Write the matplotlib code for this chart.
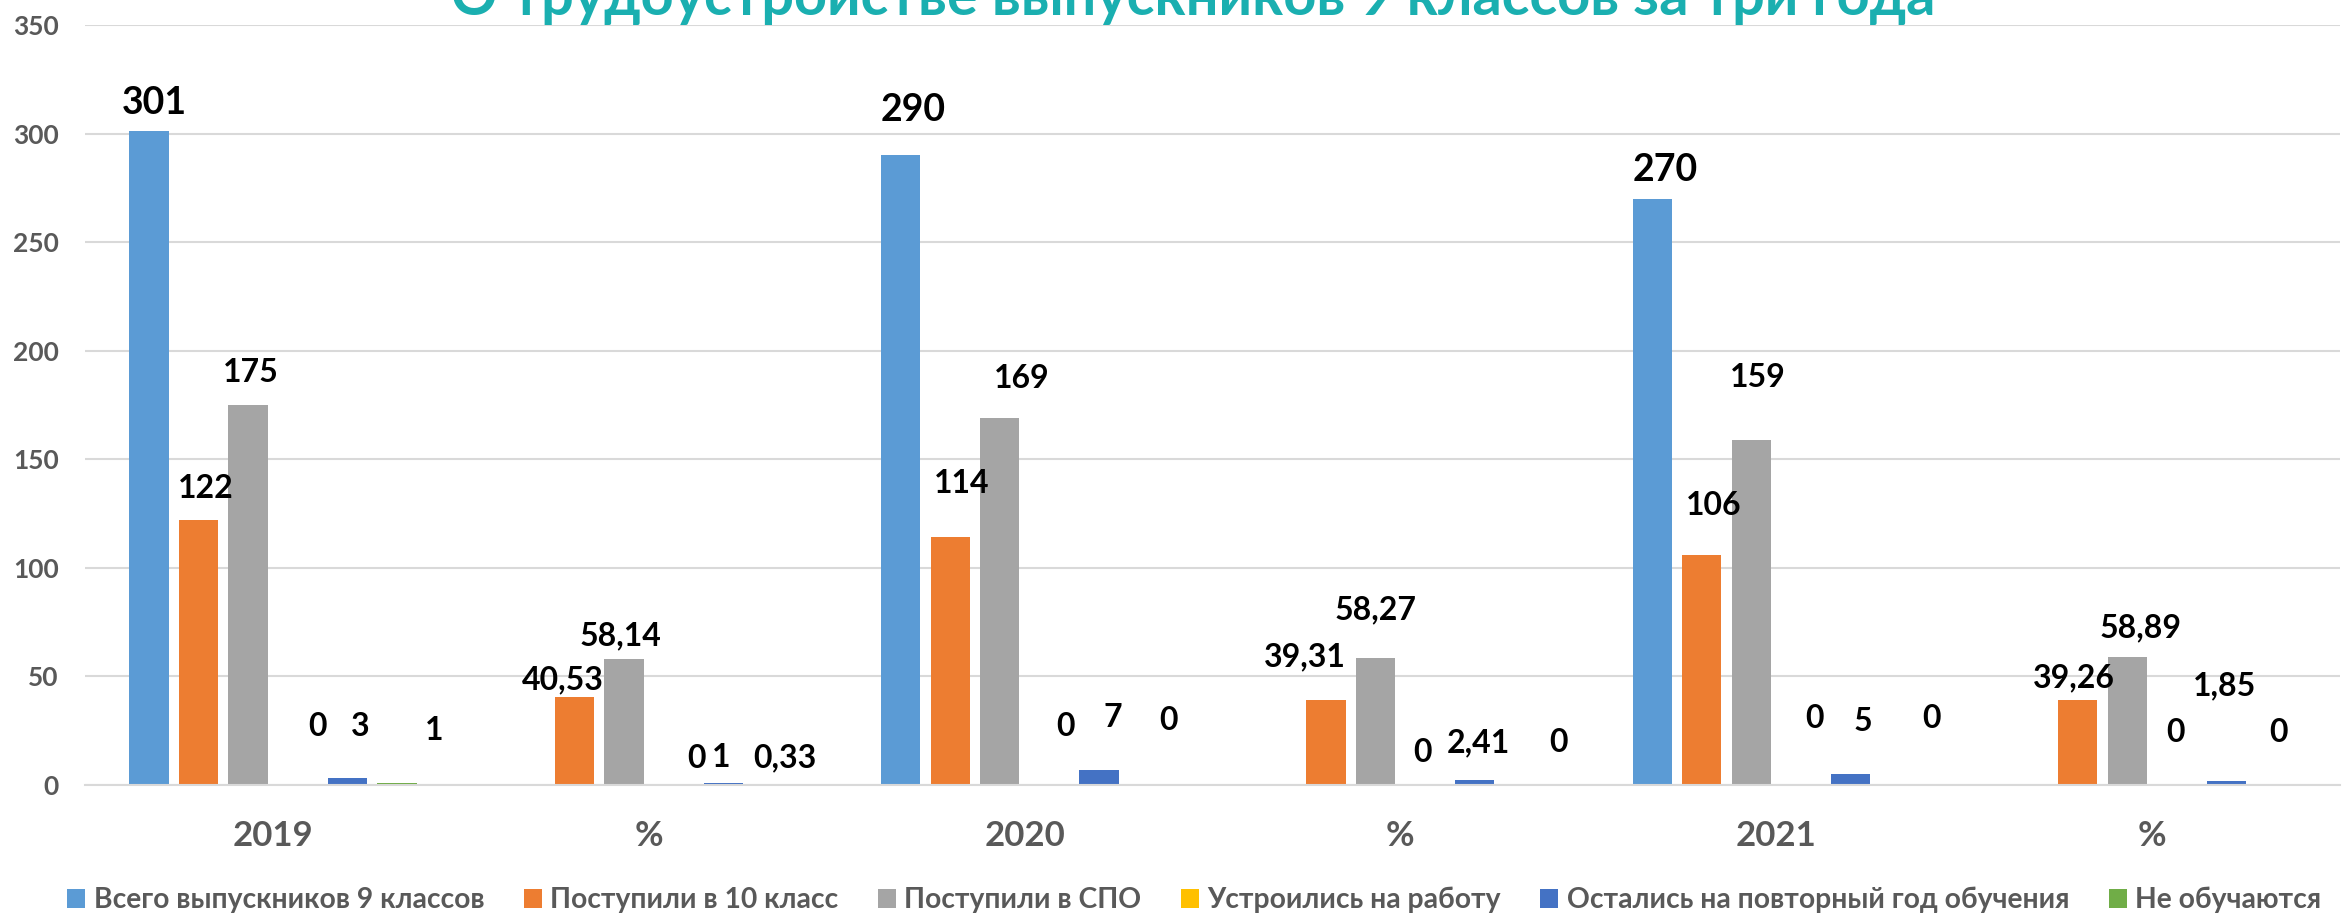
import numpy as np
import matplotlib
matplotlib.use('Agg')
import matplotlib.pyplot as plt
from matplotlib.patches import Patch

plt.rcParams['font.family'] = ['Lato', 'DejaVu Sans']
plt.rcParams['font.weight'] = 'bold'

categories = ['2019', '%', '2020', '%', '2021', '%']
series_names = ['Всего выпускников 9 классов', 'Поступили в 10 класс', 'Поступили в СПО',
                'Устроились на работу', 'Остались на повторный год обучения', 'Не обучаются']
total = [301, np.nan, 290, np.nan, 270, np.nan]
grade10 = [122, 40.53, 114, 39.31, 106, 39.26]
spo = [175, 58.14, 169, 58.27, 159, 58.89]
work = [0, 0, 0, 0, 0, 0]
repeat = [3, 1, 7, 2.41, 5, 1.85]
not_study = [1, 0.33, 0, 0, 0, 0]
title = 'О трудоустройстве выпускников 9 классов за три года'

values = [total, grade10, spo, work, repeat, not_study]
colors = ['#5B9BD5', '#ED7D31', '#A5A5A5', '#FFC000', '#4472C4', '#70AD47']

# hand-moved data labels, (dx, dy) in pixels from the bar top
label_nudge = [
    [(5, 28), None, (13, 45), None, (13, 29), None],
    [(7, 32), (-12, 17), (12, 54), (-21, 43), (12, 49), (-4, 22)],
    [(3, 33), (-3, 23), (22, 40), (0, 49), (6, 62), (13, 29)],
    [(20, 58), (23, 27), (16, 58), (-3, 33), (13, 67), (-1, 53)],
    [(13, 52), (-2, 25), (14, 52), (4, 37), (12, 53), (-2, 95)],
    [(37, 52), (12, 26), (20, 64), (34, 43), (31, 67), (2, 53)],
]

fig = plt.figure(figsize=(23.46, 9.14), dpi=100)
ax = fig.add_axes([85 / 2346, 1 - 785 / 914, (2340 - 85) / 2346, (785 - 25) / 914])

x = np.arange(len(categories))
pitch = 0.132
width = 0.1045
for i, (vals, col) in enumerate(zip(values, colors)):
    xs = x + (i - 2.5) * pitch
    ax.bar(xs, vals, width=width, color=col, zorder=2)
    for j, v in enumerate(vals):
        if np.isnan(v):
            continue
        dx, dy = label_nudge[i][j]
        txt = f'{v:g}'.replace('.', ',')
        ax.annotate(txt, xy=(xs[j], v), xytext=(dx * 0.72, dy * 0.72),
                    textcoords='offset points', ha='center', va='center',
                    fontsize=27 if i == 0 else 23, fontweight='bold', color='black')

ax.set_xlim(-0.5, 5.5)
ax.set_ylim(0, 350)
ax.set_yticks(range(0, 351, 50))
ax.set_xticks(x)
ax.set_xticklabels(categories)
ax.grid(axis='y', color='#D9D9D9', linewidth=1.5, zorder=0)
ax.set_axisbelow(True)
for s in ['top', 'right', 'left']:
    ax.spines[s].set_visible(False)
ax.spines['bottom'].set_color('#D9D9D9')
ax.spines['bottom'].set_linewidth(1.5)
ax.tick_params(axis='y', length=0, pad=19, labelsize=19, labelcolor='#595959')
ax.tick_params(axis='x', length=0, pad=25, labelsize=25, labelcolor='#595959')

fig.text(1193 / 2346, 1 - 15 / 914, title, ha='center', va='baseline',
         fontsize=41.5, fontweight='bold', color='#1AAFB0')

handles = [Patch(facecolor=c) for c in colors]
fig.legend(handles, series_names, loc='center left', bbox_to_anchor=(67 / 2346, 14 / 914),
           ncol=6, frameon=False, fontsize=20.3, labelcolor='#595959',
           handlelength=0.64, handleheight=0.64, handletextpad=0.3, columnspacing=1.4,
           borderaxespad=0, borderpad=0)

fig.savefig('out.png', dpi=100)
